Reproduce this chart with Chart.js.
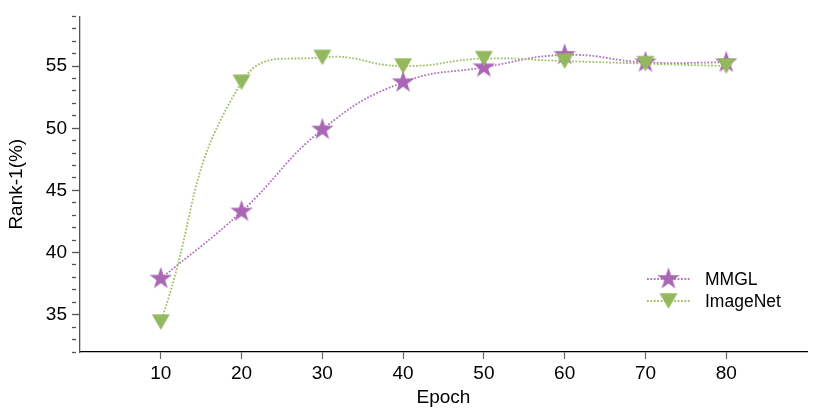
<!DOCTYPE html>
<html>
<head>
<meta charset="utf-8">
<script src="https://cdn.jsdelivr.net/npm/chart.js@4"></script>
<style>
  html, body { margin: 0; padding: 0; background: #fff; }
  #wrap { width: 830px; height: 417px; }
</style>
</head>
<body>
<div id="wrap"><canvas id="chart" width="830" height="417"></canvas></div>
<script>
        const epochs = [10, 20, 30, 40, 50, 60, 70, 80];
        const mmgl = [37.9, 43.3, 49.9, 53.7, 54.9, 55.9, 55.3, 55.3];
        const imagenet = [34.4, 53.7, 55.7, 55.0, 55.6, 55.4, 55.2, 55.0];
        const xTicks = [10, 20, 30, 40, 50, 60, 70, 80];
        const seriesNames = ['MMGL', 'ImageNet'];

        const purple = '#a866b4';
        const purpleLine = '#b275c0';
        const green = '#94b85e';
        const greenLine = '#9dc266';
        const font = '"Liberation Sans", Arial, Helvetica, sans-serif';

        function makeStar(color) {
            const c = document.createElement('canvas');
            c.width = 26; c.height = 26;
            const g = c.getContext('2d');
            const R = 11.8, r = R * 0.382;
            g.beginPath();
            for (let i = 0; i < 10; i++) {
                const rad = (i % 2 === 0) ? R : r;
                const a = -Math.PI / 2 + i * Math.PI / 5;
                const px = 13 + rad * Math.cos(a);
                const py = 13 + rad * Math.sin(a);
                if (i === 0) g.moveTo(px, py); else g.lineTo(px, py);
            }
            g.closePath();
            g.fillStyle = color;
            g.fill();
            return c;
        }

        function makeTriangle(color) {
            const c = document.createElement('canvas');
            c.width = 22; c.height = 22;
            const g = c.getContext('2d');
            g.beginPath();
            g.moveTo(2, 3.2);
            g.lineTo(20, 3.2);
            g.lineTo(11, 18.8);
            g.closePath();
            g.fillStyle = color;
            g.fill();
            return c;
        }

        const starImg = makeStar(purple);
        const triImg = makeTriangle(green);

        // legend drawn inside the plot, line sample + marker like the original
        const innerLegend = {
            id: 'innerLegend',
            afterDraw(chart) {
                const ctx = chart.ctx;
                const rows = [
                    { label: seriesNames[0], color: purpleLine, img: starImg, y: 279 },
                    { label: seriesNames[1], color: greenLine, img: triImg, y: 301 }
                ];
                ctx.save();
                rows.forEach(row => {
                    ctx.strokeStyle = row.color;
                    ctx.lineWidth = 1.8;
                    ctx.setLineDash([1.8, 1.6]);
                    ctx.beginPath();
                    ctx.moveTo(647, row.y);
                    ctx.lineTo(690, row.y);
                    ctx.stroke();
                    ctx.setLineDash([]);
                    ctx.drawImage(row.img, 668.5 - row.img.width / 2, row.y - row.img.height / 2);
                    ctx.fillStyle = '#000';
                    ctx.font = '17.5px ' + font;
                    ctx.textBaseline = 'middle';
                    ctx.textAlign = 'left';
                    ctx.fillText(row.label, 705, row.y + 1);
                });
                ctx.restore();
            }
        };

        const ctx = document.getElementById('chart').getContext('2d');

        new Chart(ctx, {
            type: 'line',
            data: {
                datasets: [
                    {
                        label: seriesNames[0],
                        data: epochs.map((x, i) => ({ x: x, y: mmgl[i] })),
                        borderColor: purpleLine,
                        borderWidth: 1.8,
                        borderDash: [1.8, 1.6],
                        tension: 0.45,
                        pointStyle: starImg,
                        order: 1
                    },
                    {
                        label: seriesNames[1],
                        data: epochs.map((x, i) => ({ x: x, y: imagenet[i] })),
                        borderColor: greenLine,
                        borderWidth: 1.8,
                        borderDash: [1.8, 1.6],
                        tension: 0.48,
                        pointStyle: triImg,
                        order: 0
                    }
                ]
            },
            options: {
                responsive: false,
                animation: false,
                layout: { padding: { left: 0, right: 23, top: 16, bottom: 0 } },
                plugins: {
                    legend: { display: false },
                    tooltip: { enabled: false }
                },
                scales: {
                    x: {
                        type: 'linear',
                        min: 0,
                        max: 90,
                        afterBuildTicks: scale => {
                            scale.ticks = xTicks.map(v => ({ value: v }));
                        },
                        afterFit: scale => { scale.height = 65; },
                        border: { color: '#000', width: 1.3 },
                        grid: {
                            drawOnChartArea: false,
                            tickLength: 7,
                            tickColor: '#666',
                            tickWidth: 1.2
                        },
                        ticks: {
                            color: '#000',
                            font: { family: font, size: 19 },
                            padding: 3,
                            maxRotation: 0
                        },
                        title: {
                            display: true,
                            text: 'Epoch',
                            color: '#000',
                            font: { family: font, size: 19 },
                            padding: { top: 0, bottom: 7.6 }
                        }
                    },
                    y: {
                        min: 32,
                        max: 59,
                        afterFit: scale => { scale.width = 80; },
                        border: { color: '#555', width: 1.3 },
                        grid: {
                            drawOnChartArea: false,
                            tickLength: 8,
                            tickColor: '#555',
                            tickWidth: 1.3,
                            tickBorderDash: c => (c.tick && c.tick.value % 5 === 0) ? [] : [4, 30]
                        },
                        ticks: {
                            stepSize: 1,
                            autoSkip: false,
                            color: '#000',
                            font: { family: font, size: 19 },
                            padding: 5,
                            callback: v => (v % 5 === 0 ? v : '')
                        },
                        title: {
                            display: true,
                            text: 'Rank-1(%)',
                            color: '#000',
                            font: { family: font, size: 19 },
                            padding: { top: 5.6, bottom: 0 }
                        }
                    }
                }
            },
            plugins: [innerLegend]
        });
</script>
</body>
</html>
